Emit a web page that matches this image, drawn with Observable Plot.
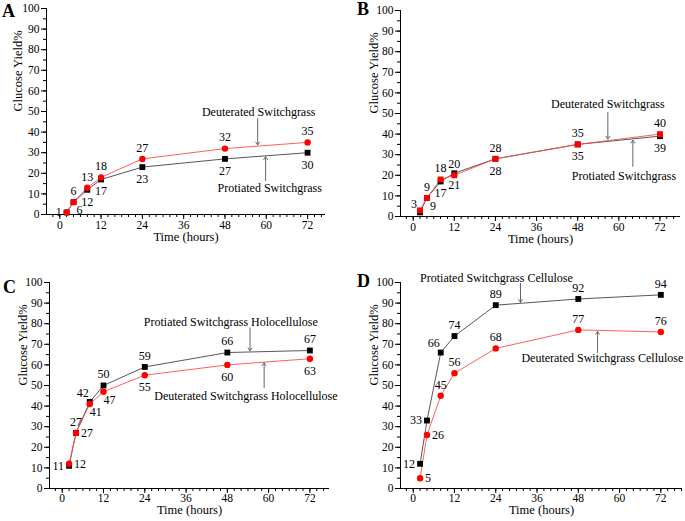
<!DOCTYPE html>
<html><head><meta charset="utf-8">
<script src="https://cdn.jsdelivr.net/npm/d3@7"></script>
<script src="https://cdn.jsdelivr.net/npm/@observablehq/plot@0.6"></script>
<style>
body{margin:0;background:#fff;}
#root{position:relative;width:685px;height:521px;overflow:hidden;background:#fff;font-family:"Liberation Serif","Times New Roman",serif;color:#000;}
.panel{position:absolute;}
.panel svg{overflow:visible;font-family:"Liberation Serif","Times New Roman",serif !important;}
.panel svg text{font-family:"Liberation Serif","Times New Roman",serif !important;}
.letter{position:absolute;font-weight:bold;font-size:18px;line-height:18px;font-family:"Liberation Serif",serif;}
</style></head><body><div id="root"></div>
<script>
// ---- data ----
const hours = [2, 4, 8, 12, 24, 48, 72];
const xMajorTicks = [0, 12, 24, 36, 48, 60, 72];
const yMajorTicks = [0, 10, 20, 30, 40, 50, 60, 70, 80, 90, 100];
const panelLetters = ["A", "B", "C", "D"];
const xTitle = "Time (hours)";
const yTitle = "Glucose Yield%";

// Panel A
const deutA = [1, 6, 13, 18, 27, 32, 35];
const protA = [1, 6, 12, 17, 23, 27, 30];
// Panel B
const deutB = [3, 9, 18, 20, 28, 35, 40];
const protB = [2, 9, 17, 21, 28, 35, 39];
// Panel C
const protC = [11, 27, 42, 50, 59, 66, 67];
const deutC = [12, 27, 41, 47, 55, 60, 63];
// Panel D
const protD = [12, 33, 66, 74, 89, 92, 94];
const deutD = [5, 26, 45, 56, 68, 77, 76];

// label placement (which side of the point each value label sits)
const placeA_deut = ["left", "above", "above", "above", "above", "above", "above"];
const placeA_prot = [null, "belowRight", "below", "below", "below", "below", "below"];
const placeB_deut = ["leftUp", "above", "above", "above", "above", "above", "above"];
const placeB_prot = [null, "belowRight", "below", "below", "below", "below", "below"];
const placeC_prot = ["left", "above", "aboveLeft", "above", "above", "above", "above"];
const placeC_deut = ["right", "right", "belowRight", "belowRight", "below", "below", "below"];
const placeD_prot = ["left", "left", "aboveLeft", "above", "above", "above", "above"];
const placeD_deut = ["right", "right", "above", "above", "above", "above", "above"];

// annotations (data coordinates)
const annA = [
  {label: "Deuterated Switchgrass", tx: 57.8, ty: 49.5, ax: 57.5, ay1: 46.6, ay2: 33.8},
  {label: "Protiated Switchgrass", tx: 61, ty: 12.6, ax: 59.8, ay1: 16.5, ay2: 28.0}
];
const annB = [
  {label: "Deuterated Switchgrass", tx: 56.8, ty: 54.4, ax: 56.8, ay1: 50.5, ay2: 37.6},
  {label: "Protiated Switchgrass", tx: 61.5, ty: 19.4, ax: 64.1, ay1: 24.3, ay2: 37.0}
];
const annC = [
  {label: "Protiated Switchgrass Holocellulose", tx: 49, ty: 80.6, ax: 54.6, ay1: 78, ay2: 66.9},
  {label: "Deuterated Switchgrass Holocellulose", tx: 53.4, ty: 44.7, ax: 58.7, ay1: 49, ay2: 61.0}
];
const annD = [
  {label: "Protiated Switchgrass Cellulose", tx: 24.2, ty: 102, ax: 31.2, ay1: 99.5, ay2: 90.4},
  {label: "Deuterated Switchgrass Cellulose", tx: 55, ty: 63.1, ax: 53.6, ay1: 66, ay2: 76.2}
];

// ---- drawing ----
const OFF = {
  above: {dx: 0, dy: -11, textAnchor: "middle"},
  below: {dx: 0, dy: 12, textAnchor: "middle"},
  left: {dx: -5, dy: 0, textAnchor: "end"},
  right: {dx: 5, dy: 0, textAnchor: "start"},
  aboveLeft: {dx: -7, dy: -9, textAnchor: "middle"},
  belowRight: {dx: 6, dy: 8, textAnchor: "middle"},
  leftUp: {dx: -3, dy: -6, textAnchor: "end"}
};
const RED = "#ff0000", RED_LINE = "#ff4d4d", BLACK = "#000000", BLACK_LINE = "#444444";
const FONT = "Liberation Serif";

function panel(cfg) {
  const [x0, x1] = cfg.xDomain;
  const minorX = d3.range(-2, x1, 2);
  const minorY = d3.range(0, 101, 5);
  const marks = [
    Plot.axisX(minorX, {tickSize: 3, tickFormat: () => "", label: null}),
    Plot.axisX(xMajorTicks, {tickSize: 5, tickPadding: cfg.xTickPad, label: null, fontSize: 11.5, fontFamily: FONT}),
    Plot.axisY(minorY, {tickSize: 3, tickFormat: () => "", label: null}),
    Plot.axisY(yMajorTicks, {tickSize: 5, tickPadding: 2, label: null, fontSize: 11.5, fontFamily: FONT}),
    Plot.ruleY([0], {stroke: "#000"}),
    Plot.ruleX([x0], {stroke: "#000"}),
    Plot.text([xTitle], {frameAnchor: "bottom", dy: cfg.xTitleDy, fontSize: 12.5, fontFamily: FONT}),
    Plot.text([yTitle], {frameAnchor: "left", dx: -cfg.yTitleDx, rotate: -90, fontSize: 12.5, fontFamily: FONT})
  ];
  for (const s of cfg.series) {
    const pts = hours.map((h, i) => ({h, v: s.values[i], i}));
    marks.push(Plot.line(pts, {x: "h", y: "v", stroke: s.line, strokeWidth: 0.9}));
  }
  for (const s of cfg.series) {
    const pts = hours.map((h, i) => ({h, v: s.values[i], i}));
    marks.push(Plot.dot(pts, {x: "h", y: "v", symbol: s.symbol, r: s.symbol === "square" ? 3.3 : 3.2, fill: s.color, stroke: "none"}));
  }
  for (const s of cfg.series) {
    for (const key of Object.keys(OFF)) {
      const pts = hours.map((h, i) => ({h, v: s.values[i], i})).filter(d => s.place[d.i] === key);
      if (!pts.length) continue;
      const o = OFF[key];
      marks.push(Plot.text(pts, {x: "h", y: "v", text: d => String(d.v), dx: o.dx, dy: o.dy, textAnchor: o.textAnchor, fontSize: 12, fontFamily: FONT, fill: "#000"}));
    }
  }
  marks.push(Plot.arrow(cfg.ann, {x1: "ax", x2: "ax", y1: "ay1", y2: "ay2", stroke: "#666", strokeWidth: 1, headLength: 5, headAngle: 70}));
  marks.push(Plot.text(cfg.ann, {x: "tx", y: "ty", text: "label", fontSize: 12, fontFamily: FONT, fill: "#000"}));

  return Plot.plot({
    width: cfg.width, height: cfg.height,
    marginLeft: cfg.m[0], marginRight: cfg.m[1], marginTop: cfg.m[2], marginBottom: cfg.m[3],
    x: {domain: cfg.xDomain},
    y: {domain: [0, 100]},
    style: {fontFamily: FONT, fontSize: "12px", color: "#000", background: "transparent", overflow: "visible"},
    marks
  });
}

const panels = [
  {pos: [0, 0], width: 340, height: 260, m: [46, 15, 8, 46], xDomain: [-3.85, 77.2], xTitleDy: 26, xTickPad: 1, yTitleDx: 29,
   series: [
     {values: protA, color: BLACK, line: BLACK_LINE, symbol: "square", place: placeA_prot},
     {values: deutA, color: RED, line: RED_LINE, symbol: "circle", place: placeA_deut}
   ], ann: annA, letterPos: [2, 2]},
  {pos: [340, 0], width: 345, height: 260, m: [60, 5, 10, 44], xDomain: [-3.7, 78], xTitleDy: 26, xTickPad: 1, yTitleDx: 27,
   series: [
     {values: protB, color: BLACK, line: BLACK_LINE, symbol: "square", place: placeB_prot},
     {values: deutB, color: RED, line: RED_LINE, symbol: "square", place: placeB_deut}
   ], ann: annB, letterPos: [357, 0]},
  {pos: [0, 260], width: 340, height: 261, m: [49, 11, 22, 33], xDomain: [-3.7, 77.7], xTitleDy: 25.5, xTickPad: 0, yTitleDx: 27,
   series: [
     {values: protC, color: BLACK, line: BLACK_LINE, symbol: "square", place: placeC_prot},
     {values: deutC, color: RED, line: RED_LINE, symbol: "circle", place: placeC_deut}
   ], ann: annC, letterPos: [3, 278]},
  {pos: [340, 260], width: 345, height: 261, m: [60, 3, 22, 33], xDomain: [-3.7, 78.3], xTitleDy: 25.5, xTickPad: 0, yTitleDx: 27,
   series: [
     {values: protD, color: BLACK, line: BLACK_LINE, symbol: "square", place: placeD_prot},
     {values: deutD, color: RED, line: RED_LINE, symbol: "circle", place: placeD_deut}
   ], ann: annD, letterPos: [357, 272]}
];

const root = document.getElementById("root");
panels.forEach((cfg, k) => {
  const div = document.createElement("div");
  div.className = "panel";
  div.style.left = cfg.pos[0] + "px";
  div.style.top = cfg.pos[1] + "px";
  div.appendChild(panel(cfg));
  root.appendChild(div);
  const L = document.createElement("div");
  L.className = "letter";
  L.style.left = cfg.letterPos[0] + "px";
  L.style.top = cfg.letterPos[1] + "px";
  L.textContent = panelLetters[k];
  root.appendChild(L);
});
</script></body></html>
